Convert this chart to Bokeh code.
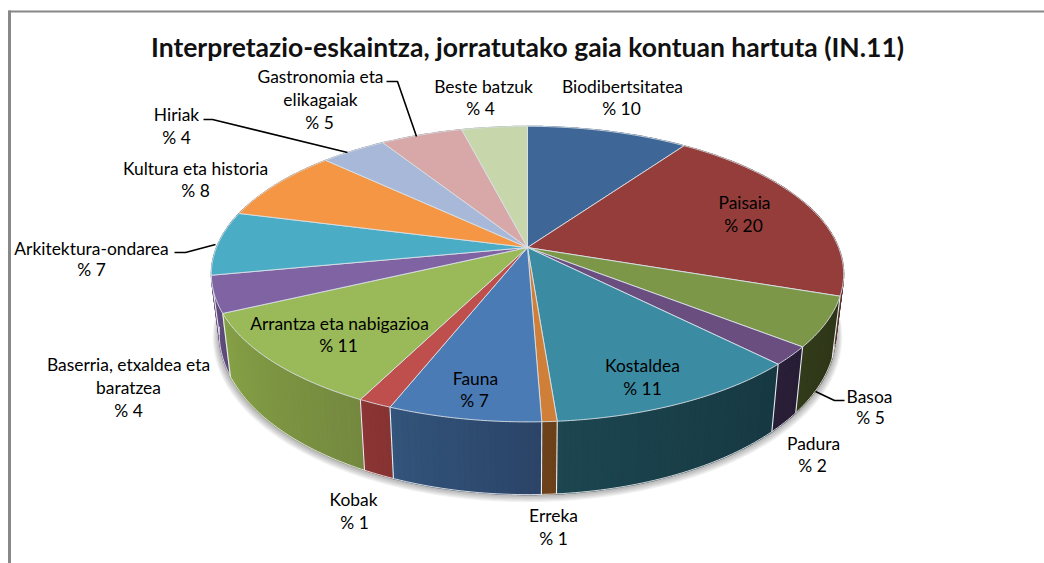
import numpy as np
from bokeh.plotting import figure
from bokeh.models import Range1d
from bokeh.core.properties import value
from bokeh.embed import file_html
from bokeh.resources import INLINE

title = "Interpretazio-eskaintza, jorratutako gaia kontuan hartuta (IN.11)"
categories = ["Biodibertsitatea", "Paisaia", "Basoa", "Padura", "Kostaldea", "Erreka", "Fauna", "Kobak",
              "Arrantza eta nabigazioa", "Baserria, etxaldea eta baratzea", "Arkitektura-ondarea",
              "Kultura eta historia", "Hiriak", "Gastronomia eta elikagaiak", "Beste batzuk"]
# shares; the printed labels are these values rounded
shares = [9.8, 20.4, 5.4, 2.0, 11.15, 0.65, 6.6, 1.45, 10.55, 4, 7, 8, 4, 5, 4]
printed = [10, 20, 5, 2, 11, 1, 7, 1, 11, 4, 7, 8, 4, 5, 4]

top_colors = ["#3E6797", "#953D3B", "#7C9748", "#694E7F", "#3B8CA3", "#CF7F38", "#4B7BB5", "#BE4F4C",
              "#9ABA59", "#8063A2", "#4BACC6", "#F59645", "#A8B8D8", "#D8A7A7", "#C8D6AC"]
wall_light = ["#33547B", "#6B3A34", "#323B1A", "#2A1F38", "#1C4650", "#6E431B", "#33547B", "#8C3635",
              "#86A146", "#6A5189", "#3A8296", "#B86F30", "#7F8CA8", "#A87E7E", "#98A482"]
wall_dark = ["#2B4468", "#5A322D", "#2E3618", "#281D35", "#173842", "#6A401A", "#2B4468", "#853332",
             "#74893F", "#5E4879", "#33748A", "#A66428", "#727E98", "#967070", "#8A9676"]

# label lines: (text, centre x, centre y)
label_lines = [
    ("Biodibertsitatea", 622, 86), ("% 10", 621, 108),
    ("Paisaia", 744, 202), ("% 20", 743, 225),
    ("Basoa", 869, 396), ("% 5", 870, 417),
    ("Padura", 813, 443), ("% 2", 812, 465),
    ("Kostaldea", 642, 365), ("% 11", 642, 388),
    ("Erreka", 553, 515), ("% 1", 553, 538),
    ("Fauna", 475, 378), ("% 7", 474, 400),
    ("Kobak", 353, 499), ("% 1", 354, 522),
    ("Arrantza eta nabigazioa", 339, 323), ("% 11", 338, 345),
    ("Baserria, etxaldea eta", 128, 364), ("baratzea", 128, 387), ("% 4", 128, 410),
    ("Arkitektura-ondarea", 91, 248), ("% 7", 91, 269),
    ("Kultura eta historia", 195, 168), ("% 8", 195, 190),
    ("Hiriak", 176, 114), ("% 4", 176, 137),
    ("Gastronomia eta", 320, 76), ("elikagaiak", 320, 99), ("% 5", 319, 122),
    ("Beste batzuk", 483, 86), ("% 4", 480, 108),
]
leaders = [
    ([386, 397, 416], [81, 81, 136]),
    ([203, 212, 347], [119, 119, 152]),
    ([174, 185, 215], [252, 252, 244]),
    ([815, 834, 844], [391, 400, 400]),
]

cx, cy, rx, ry, k = 527.0, 247.0, 311.0, 143.0, 0.18
sx, sy, dz = 0.975, 1.09, 57.0


def top_ring(deg):
    t = np.radians(deg)
    X, Y = np.sin(t), -np.cos(t)
    d = 1 - k * Y
    return cx + rx * X / d, cy + ry * Y / d


def low_ring(deg):
    x, y = top_ring(deg)
    return cx + sx * (x - cx), cy + dz + sy * (y - cy)


def mix(a, b, f):
    ca = [int(a[i:i + 2], 16) for i in (1, 3, 5)]
    cb = [int(b[i:i + 2], 16) for i in (1, 3, 5)]
    return "#%02x%02x%02x" % tuple(int(round(u + (v - u) * f)) for u, v in zip(ca, cb))


edges = np.concatenate([[0], np.cumsum(shares)]) / np.sum(shares) * 360.0

p = figure(width=1044, height=563, x_range=Range1d(0, 1044), y_range=Range1d(563, 0),
           output_backend="svg", toolbar_location=None, min_border=0)
p.axis.visible = False
p.grid.visible = False
p.outline_line_color = None
p.background_fill_color = "white"

# frame
p.line([9, 9], [10, 563], line_color="#888888", line_width=3)
p.line([8, 1044], [11, 11], line_color="#888888", line_width=2)

# soft shadow under the base
all_deg = np.linspace(0, 360, 361)
lx, ly = low_ring(all_deg)
for i in range(1, 7):
    p.patch(cx + (lx - cx) * (1 + i * 0.0035), cy + dz + (ly - cy - dz) * (1 + i * 0.004) + i * 0.5,
            fill_color="#000000", fill_alpha=0.055, line_color=None)

# side wall: narrow quads, shaded along each slice
quads = []
for i in range(len(shares)):
    a0, a1 = edges[i], edges[i + 1]
    n = max(2, int(np.ceil((a1 - a0) / 1.0)))
    grid = np.linspace(a0, a1, n + 1)
    for j in range(n):
        xa, ya = top_ring(grid[j])
        xb, yb = top_ring(grid[j + 1])
        xc, yc = low_ring(grid[j + 1])
        xd, yd = low_ring(grid[j])
        f = (j + 0.5) / n
        # the angle runs right to left on the page's front; light stays at the left end
        if 90 < (a0 + a1) / 2 < 270:
            f = 1 - f
        quads.append(((ya + yb) / 2, [xa, xb, xc, xd], [ya, yb, yc, yd], mix(wall_light[i], wall_dark[i], f)))
quads.sort(key=lambda q: q[0])
p.patches([q[1] for q in quads], [q[2] for q in quads], fill_color=[q[3] for q in quads],
          line_color=[q[3] for q in quads], line_width=1.2)

# pale seams on the front of the wall
for a in edges:
    if 100 < a < 262:
        xa, ya = top_ring(a)
        xb, yb = low_ring(a)
        p.line([xa, xb], [ya, yb], line_color="#E8ECEF", line_width=1.1)
front = np.linspace(104, 262, 160)
fx, fy = low_ring(front)
p.line(fx, fy, line_color="#E4E6E8", line_width=0.9)

# top face
for i in range(len(shares)):
    deg = np.linspace(edges[i], edges[i + 1], max(3, int((edges[i + 1] - edges[i]) * 2)))
    x, y = top_ring(deg)
    p.patch(np.r_[cx, x], np.r_[cy, y], fill_color=top_colors[i], line_color="#D9E1E8", line_width=0.9)

# leader lines
for xs, ys in leaders:
    p.line(xs, ys, line_color="black", line_width=1.6)

p.text([527], [46], text=[title], text_font=value("Lato"), text_font_size="26.5px", text_font_style="bold",
       text_color="#111111", text_align="center", text_baseline="middle")
p.text([q[1] for q in label_lines], [q[2] for q in label_lines], text=[q[0] for q in label_lines],
       text_font=value("Lato"), text_font_size="17.4px", text_color="black",
       text_align="center", text_baseline="middle")

open("out.html", "w").write(file_html(p, INLINE))
